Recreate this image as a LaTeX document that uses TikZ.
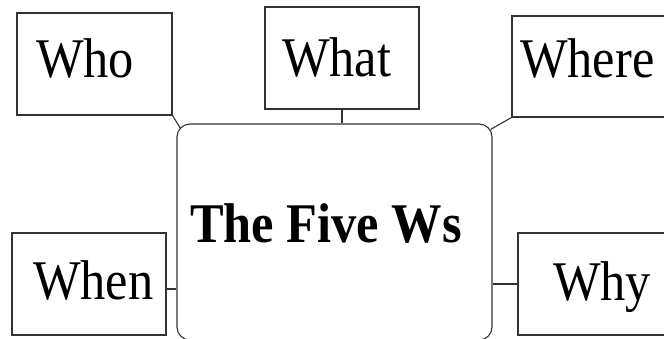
\documentclass[tikz,border=0pt]{standalone}
\usepackage{fontspec}
\setmainfont{Liberation Serif}[FakeStretch=0.9]
\usetikzlibrary{calc}
\begin{document}
\begin{tikzpicture}[x=1pt,y=-1pt,
  wbox/.style={draw=black!80,line width=1.1pt,rectangle,inner sep=0pt},
  centerbox/.style={draw=black!80,line width=1.1pt,rectangle,rounded corners=13pt,inner sep=0pt},
  wtext/.style={anchor=base west,inner sep=0pt,font=\fontsize{56}{60}\selectfont},
  ttext/.style={anchor=base west,inner sep=0pt,font=\fontsize{56}{60}\selectfont\bfseries},
  link/.style={draw=black!80,line width=1.1pt}]
\useasboundingbox (0,0) rectangle (664,338);
\begin{scope}
\clip (0,0) rectangle (664,338);
% boxes
\node[wbox,minimum width=155pt,minimum height=102pt] (who) at (94.5,64) {};
\node[wbox,minimum width=154pt,minimum height=102pt] (what) at (342,58) {};
\node[wbox,minimum width=155pt,minimum height=101pt] (where) at (589.5,66.5) {};
\node[wbox,minimum width=154pt,minimum height=102pt] (when) at (89,284) {};
\node[wbox,minimum width=155pt,minimum height=102pt] (why) at (595.5,284) {};
\node[centerbox,minimum width=315pt,minimum height=216pt] (c) at (334.5,232) {};
% texts
\node[wtext] (whot) at (36,77) {Who};
\node[wtext] (whatt) at (282,76) {What};
\node[wtext] (wheret) at (520,77) {Where};
\node[wtext] (whent) at (33,299) {When};
\node[wtext] (whyt) at (553,300) {Why};
\node[ttext] (title) at (190,242) {The Five Ws};
% connectors
\coordinate (cnw) at ($(c.north west)+(4,5)$);
\coordinate (cne) at ($(c.north east)+(-2,6)$);
\draw[link] (who.south east) -- (cnw);
\draw[link] (where.south west) -- (cne);
\draw[link] (what.south) -- (what.south |- c.north);
\coordinate (whe) at ([yshift=-5pt]when.east);
\draw[link] (whe) -- (whe -| c.west);
\draw[link] (why.west) -- (why.west -| c.east);
\end{scope}
\end{tikzpicture}
\end{document}
